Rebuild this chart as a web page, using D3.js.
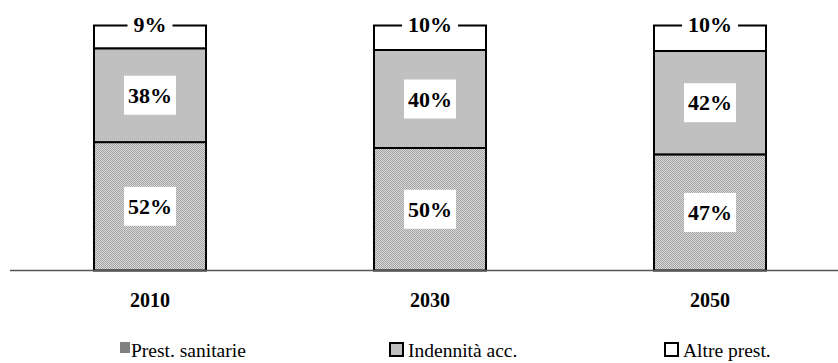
<!DOCTYPE html>
<html><head><meta charset="utf-8">
<script src="https://cdn.jsdelivr.net/npm/d3@7"></script>
<style>body{margin:0;background:#fff}svg{display:block}text{font-family:"Liberation Serif","Times New Roman",Times,serif}</style>
</head><body>
<svg id="c" width="838" height="363"></svg>
<script>
const categories = ["2010", "2030", "2050"];
const sanitarie = [52.4, 50.0, 47.4];
const indennita = [38.3, 40.0, 42.2];
const altre = [9.3, 10.0, 10.4];
const seriesNames = ["Prest. sanitarie", "Indennità acc.", "Altre prest."];
const seriesKeys = ["san", "ind", "alt"];

const svg = d3.select("#c");
const defs = svg.append("defs");
const pat = defs.append("pattern").attr("id", "dots").attr("width", 2).attr("height", 2).attr("patternUnits", "userSpaceOnUse");
pat.append("rect").attr("width", 2).attr("height", 2).attr("fill", "#d8d8d8");
pat.append("rect").attr("width", 1).attr("height", 1).attr("fill", "#a4a4a4");
pat.append("rect").attr("x", 1).attr("y", 1).attr("width", 1).attr("height", 1).attr("fill", "#a4a4a4");

const fills = {san: "url(#dots)", ind: "#c0c0c0", alt: "#ffffff"};
const table = categories.map((c, i) => ({cat: c, san: sanitarie[i], ind: indennita[i], alt: altre[i]}));
const stack = d3.stack().keys(seriesKeys)(table);

const x = d3.scaleBand().domain(categories).range([10, 850]).paddingInner(0.6).paddingOuter(0.3);
const y = d3.scaleLinear().domain([0, 100]).range([270.5, 25.5]);

// bars
stack.forEach(s => {
  svg.append("g").selectAll("rect").data(s).join("rect")
    .attr("x", d => x(d.data.cat))
    .attr("width", x.bandwidth())
    .attr("y", d => y(d[1]))
    .attr("height", d => y(d[0]) - y(d[1]))
    .attr("fill", fills[s.key])
    .attr("stroke", "#000").attr("stroke-width", 2);
});

// axis line
svg.append("line").attr("x1", 10).attr("x2", 838).attr("y1", 270.5).attr("y2", 270.5)
  .attr("stroke", "#555").attr("stroke-width", 1.5);

// value labels
stack.forEach(s => {
  s.forEach(d => {
    const isTop = s.key === "alt";
    const cx = x(d.data.cat) + x.bandwidth() / 2;
    const cy = isTop ? y(d[1]) - 1 : (y(d[0]) + y(d[1])) / 2;
    const g = svg.append("g");
    const t = g.append("text").attr("x", cx).attr("y", cy)
      .attr("text-anchor", "middle").attr("dominant-baseline", "central")
      .attr("font-weight", "bold").attr("font-size", 22)
      .text(Math.round(d.data[s.key]) + "%");
    const bb = t.node().getBBox();
    const px = isTop ? 6 : 4, py = isTop ? 0 : 7;
    g.insert("rect", "text").attr("x", bb.x - px).attr("y", bb.y - py)
      .attr("width", bb.width + 2 * px).attr("height", bb.height + 2 * py).attr("fill", "#fff");
  });
});

// category labels
svg.append("g").selectAll("text").data(categories).join("text")
  .attr("x", d => x(d) + x.bandwidth() / 2).attr("y", 307)
  .attr("text-anchor", "middle").attr("font-weight", "bold").attr("font-size", 20)
  .text(d => d);

// legend
const legX = [120, 389, 664];
const swFill = ["#808080", "#c0c0c0", "#ffffff"];
seriesNames.forEach((n, i) => {
  if (i === 0) {
    svg.append("rect").attr("x", legX[i]).attr("y", 342).attr("width", 10).attr("height", 11).attr("fill", swFill[i]);
  } else {
    svg.append("rect").attr("x", legX[i] + 1).attr("y", 343).attr("width", 13).attr("height", 13)
      .attr("fill", swFill[i]).attr("stroke", "#000").attr("stroke-width", 2);
  }
  svg.append("text").attr("x", legX[i] + (i === 0 ? 11 : 19)).attr("y", 357)
    .attr("font-size", 19.5).text(n);
});
</script>
</body></html>
